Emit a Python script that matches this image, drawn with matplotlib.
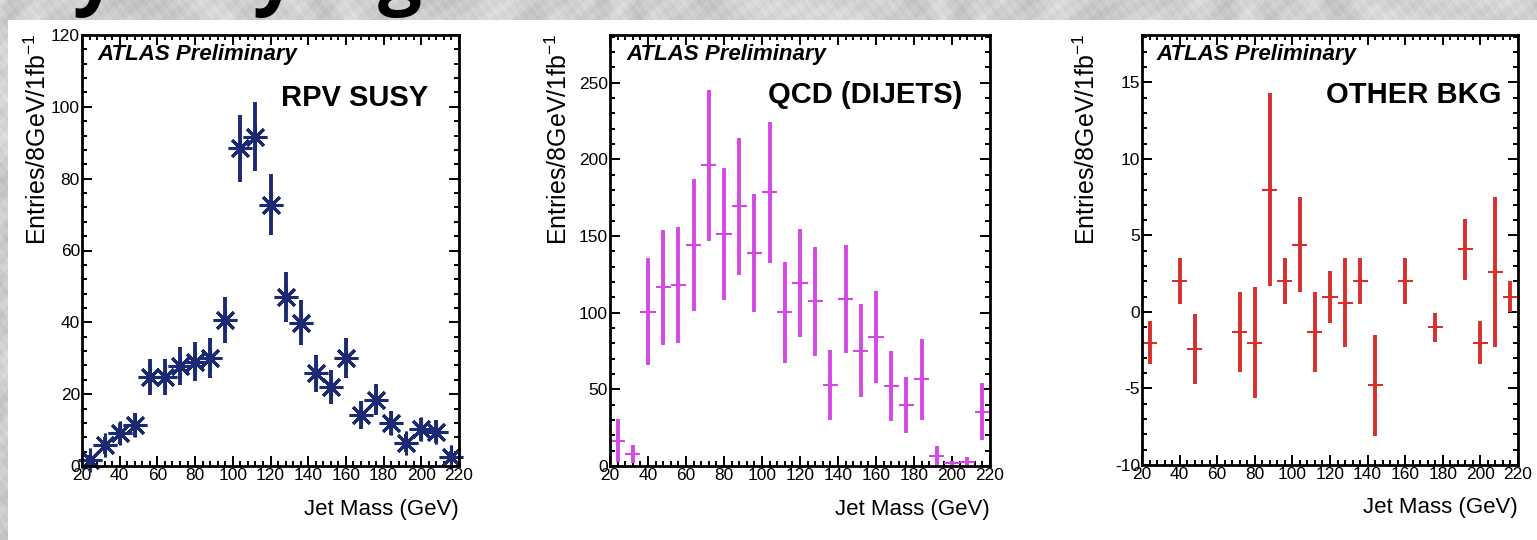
import matplotlib.pyplot as plt
import numpy as np
from matplotlib.patches import Rectangle
from matplotlib.ticker import MultipleLocator

plt.rcParams['font.family'] = ['Liberation Sans', 'DejaVu Sans']
plt.rcParams['mathtext.fontset'] = 'custom'
plt.rcParams['mathtext.rm'] = 'Liberation Sans'
plt.rcParams['axes.unicode_minus'] = False

# bin centres, 8 GeV bins from 20 to 220 GeV
mass = [24, 32, 40, 48, 56, 64, 72, 80, 88, 96, 104, 112, 120,
        128, 136, 144, 152, 160, 168, 176, 184, 192, 200, 208, 216]

# RPV SUSY signal
rpv = [1.7, 5.8, 9.1, 11.4, 24.9, 24.8, 27.9, 29.0, 30.0, 40.6, 88.4, 91.7, 72.8,
       47.1, 39.9, 25.8, 21.9, 30.0, 14.2, 18.4, 11.9, 6.5, 10.2, 9.6, 2.6]
rpv_err = [1.3, 2.4, 3.0, 3.4, 5.0, 5.0, 5.3, 5.4, 5.5, 6.4, 9.4, 9.6, 8.5,
           6.9, 6.3, 5.1, 4.7, 5.5, 3.8, 4.3, 3.4, 2.5, 3.2, 3.1, 1.6]

# QCD dijet background
qcd = [16.5, 7.8, 100.7, 116.6, 118.1, 144.3, 196.0, 151.4, 169.3, 138.8, 178.4, 100.1, 119.2,
       107.3, 52.9, 108.8, 75.3, 83.8, 52.2, 39.8, 56.6, 6.5, 1.7, 2.8, 35.5]
qcd_err = [14.0, 6.0, 35.0, 37.5, 37.7, 43.0, 49.0, 43.0, 44.6, 38.4, 46.0, 33.0, 35.0,
           35.3, 23.0, 35.4, 30.0, 30.0, 23.0, 18.5, 26.5, 6.5, 1.7, 3.0, 18.5]

# other backgrounds (empty bins left out)
other_mass = [24, 40, 48, 72, 80, 88, 96, 104, 112, 120, 128, 136, 144, 160, 176, 192, 200, 208, 216]
other = [-2.0, 2.0, -2.4, -1.3, -2.0, 8.0, 2.0, 4.4, -1.3, 1.0, 0.6, 2.0, -4.8, 2.0, -1.0, 4.1, -2.0, 2.6, 1.0]
other_err = [1.4, 1.5, 2.3, 2.6, 3.6, 6.3, 1.5, 3.1, 2.6, 1.7, 2.9, 1.5, 3.3, 1.5, 0.95, 2.0, 1.4, 4.9, 1.0]

W, H = 1537, 540
fig = plt.figure(figsize=(W / 100, H / 100), dpi=100)

# mottled grey backdrop with a white sheet over most of it
yy, xx = np.mgrid[0:H, 0:W].astype(float)
warp = 3.0 * np.sin(0.019 * xx + 0.7) + 2.0 * np.sin(0.031 * yy + 0.011 * xx)
marble = (0.81
          + 0.025 * np.sin(0.071 * xx + 0.053 * yy + warp)
          + 0.020 * np.sin(0.113 * xx - 0.087 * yy + 1.3 * warp)
          + 0.015 * np.sin(0.29 * xx + 0.37 * yy + 0.6 * warp)
          + 0.012 * np.sin(0.61 * xx - 0.47 * yy)
          + 0.010 * np.sin(1.13 * xx + 0.83 * yy))
fig.figimage(marble, cmap='gray', vmin=0, vmax=1, zorder=-2)
fig.add_artist(Rectangle((8 / W, 0), 1, (H - 20) / H, transform=fig.transFigure,
                         facecolor='white', edgecolor='none', zorder=-1))

# descenders of the slide heading peeking in at the top
for gx, ch in [(72, 'y'), (252, 'y'), (378, 'g')]:
    fig.text(gx / W, 1 + 1 / H, ch, fontsize=56, fontweight='bold', family='Open Sans',
             ha='left', va='baseline', color='black')


def style_axis(ax, ymin, ymax, major, minor):
    ax.set_xlim(20, 220)
    ax.set_ylim(ymin, ymax)
    ax.xaxis.set_major_locator(MultipleLocator(20))
    ax.xaxis.set_minor_locator(MultipleLocator(4))
    ax.yaxis.set_major_locator(MultipleLocator(major))
    ax.yaxis.set_minor_locator(MultipleLocator(minor))
    ax.tick_params(which='both', direction='in', top=True, right=True,
                   labelsize=12.5, pad=1.5, width=1.4, colors='black')
    ax.tick_params(which='major', length=7)
    ax.tick_params(which='minor', length=3.5)
    for s in ax.spines.values():
        s.set_linewidth(2)


def labels(ax, title, title_x, title_y, atlas_x, ylab_x):
    ax.text(atlas_x, 0.954, 'ATLAS Preliminary', transform=ax.transAxes, fontsize=16,
            fontweight='bold', fontstyle='italic', ha='left', va='center')
    ax.text(title_x, title_y, title, transform=ax.transAxes, fontsize=21,
            fontweight='bold', ha='right', va='center')
    ax.text(ylab_x, 1.005, r'Entries/8GeV/1fb$^{\mathrm{-1}}$', transform=ax.transAxes,
            fontsize=18, rotation=90, ha='center', va='top')
    ax.text(1.0, -0.1, 'Jet Mass (GeV)', transform=ax.transAxes, fontsize=16,
            ha='right', va='center')


# panel 1: RPV SUSY
ax1 = fig.add_axes([82 / W, 74 / H, 377 / W, 431 / H])
style_axis(ax1, 0, 120, 20, 4)
navy = '#1c2a73'
ax1.errorbar(mass, rpv, yerr=rpv_err, fmt='none', ecolor=navy, elinewidth=2.8, capsize=0)
ax1.plot(mass, rpv, ls='none', marker=(8, 2, 0), ms=17, mew=2.2, color=navy, clip_on=False)
labels(ax1, 'RPV SUSY', 0.918, 0.854, 0.04, -0.117)

# panel 2: QCD dijets
ax2 = fig.add_axes([610 / W, 74 / H, 380 / W, 431 / H])
style_axis(ax2, 0, 281, 50, 10)
magenta = '#d648e6'
ax2.errorbar(mass, qcd, yerr=qcd_err, fmt='none', ecolor=magenta, elinewidth=2.8, capsize=0)
ax2.errorbar(mass, qcd, xerr=4, fmt='none', ecolor=magenta, elinewidth=1.5, capsize=0)
labels(ax2, 'QCD (DIJETS)', 0.926, 0.861, 0.044, -0.134)

# panel 3: other backgrounds
ax3 = fig.add_axes([1142 / W, 75 / H, 376 / W, 430 / H])
style_axis(ax3, -10, 18.1, 5, 1)
red = '#d6302c'
ax3.errorbar(other_mass, other, yerr=other_err, fmt='none', ecolor=red, elinewidth=2.8, capsize=0)
ax3.errorbar(other_mass, other, xerr=4, fmt='none', ecolor=red, elinewidth=1.5, capsize=0)
labels(ax3, 'OTHER BKG', 0.957, 0.860, 0.039, -0.146)

fig.savefig('out.png', dpi=100)
